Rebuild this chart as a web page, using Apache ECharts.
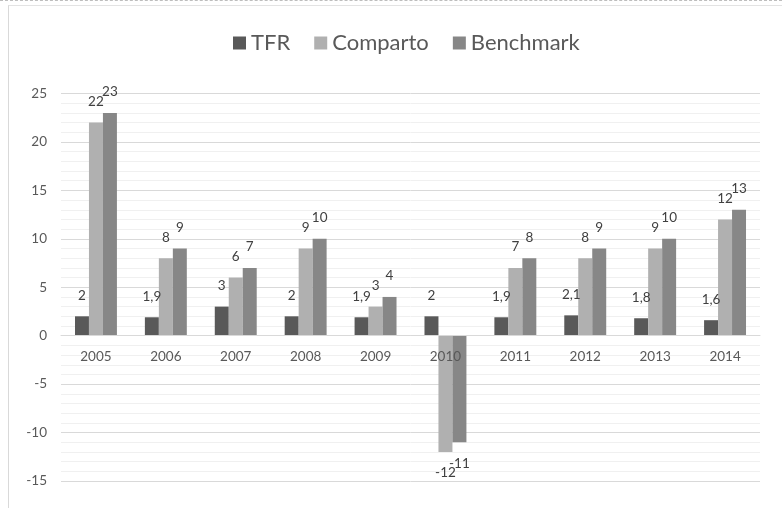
<!DOCTYPE html>
<html>
<head>
<meta charset="utf-8">
<script src="https://cdn.jsdelivr.net/npm/echarts@6/dist/echarts.min.js"></script>
<style>
  html, body { margin: 0; padding: 0; background: #fff; }
  .frame {
    position: absolute; left: 0; top: 0; width: 782px; height: 508px;
    border-top: 1px dashed #bdbdbd; box-sizing: border-box;
  }
  .box {
    position: absolute; left: 8px; top: 5px; width: 774px; height: 503px;
    border-left: 1px solid #d9d9d9; border-top: 1px solid #e3e3e3; box-sizing: border-box;
  }
  #chart { position: absolute; left: 0; top: 0; width: 782px; height: 508px; }
</style>
</head>
<body>
<div class="frame"></div>
<div class="box"></div>
<div id="chart"></div>
<script>
// dati
const anni = ["2005", "2006", "2007", "2008", "2009", "2010", "2011", "2012", "2013", "2014"];
const tfr = [2, 1.9, 3, 2, 1.9, 2, 1.9, 2.1, 1.8, 1.6];
const comparto = [22, 8, 6, 9, 3, -12, 7, 8, 9, 12];
const benchmark = [23, 9, 7, 10, 4, -11, 8, 9, 10, 13];

const chart = echarts.init(document.getElementById("chart"));

const font = "Lato, 'Open Sans', sans-serif";

// area del grafico
const gridTop = 93.5;
const gridBottom = 27;
const yMin = -15;
const yMax = 25;
// distanza della linea dello zero dal fondo della griglia
const plotH = 508 - gridTop - gridBottom;
const zeroOffset = (plotH * (0 - yMin)) / (yMax - yMin);

// etichette sopra per valori positivi, sotto per quelli negativi
function conEtichette(arr) {
  return arr.map((v) => ({
    value: v,
    label: { position: v < 0 ? "bottom" : "top" },
  }));
}

function serie(nome, dati, colore) {
  return {
    name: nome,
    type: "bar",
    data: conEtichette(dati),
    barGap: "0%",
    barCategoryGap: "40%",
    itemStyle: { color: colore },
    label: {
      show: true,
      distance: 14,
      color: "#404040",
      fontFamily: font,
      fontSize: 13.5,
      formatter: (p) => String(p.value).replace(".", ","),
    },
  };
}

const option = {
  animation: false,
  legend: {
    top: 27,
    left: 228,
    itemWidth: 13,
    itemHeight: 13,
    itemGap: 24,
    icon: "rect",
    textStyle: { color: "#595959", fontFamily: font, fontSize: 22 },
    data: ["TFR", "Comparto", "Benchmark"],
  },
  grid: { left: 61, right: 22, top: gridTop, bottom: gridBottom },
  xAxis: {
    type: "category",
    data: anni,
    z: 5,
    offset: -zeroOffset,
    axisLine: { onZero: false, lineStyle: { color: "#d9d9d9", width: 1 } },
    axisTick: { show: false },
    axisLabel: { color: "#595959", fontFamily: font, fontSize: 13.5, margin: 14 },
  },
  yAxis: {
    type: "value",
    min: yMin,
    max: yMax,
    interval: 5,
    axisLine: { show: false },
    axisTick: { show: false },
    axisLabel: { color: "#595959", fontFamily: font, fontSize: 13.5, margin: 14 },
    splitLine: { lineStyle: { color: "#d9d9d9", width: 1 } },
    minorTick: { show: false, splitNumber: 5 },
    minorSplitLine: { show: true, lineStyle: { color: "#f0f0f0", width: 1 } },
  },
  series: [
    serie("TFR", tfr, "#595959"),
    serie("Comparto", comparto, "#b0b0b0"),
    serie("Benchmark", benchmark, "#878787"),
  ],
};

chart.setOption(option);
</script>
</body>
</html>
